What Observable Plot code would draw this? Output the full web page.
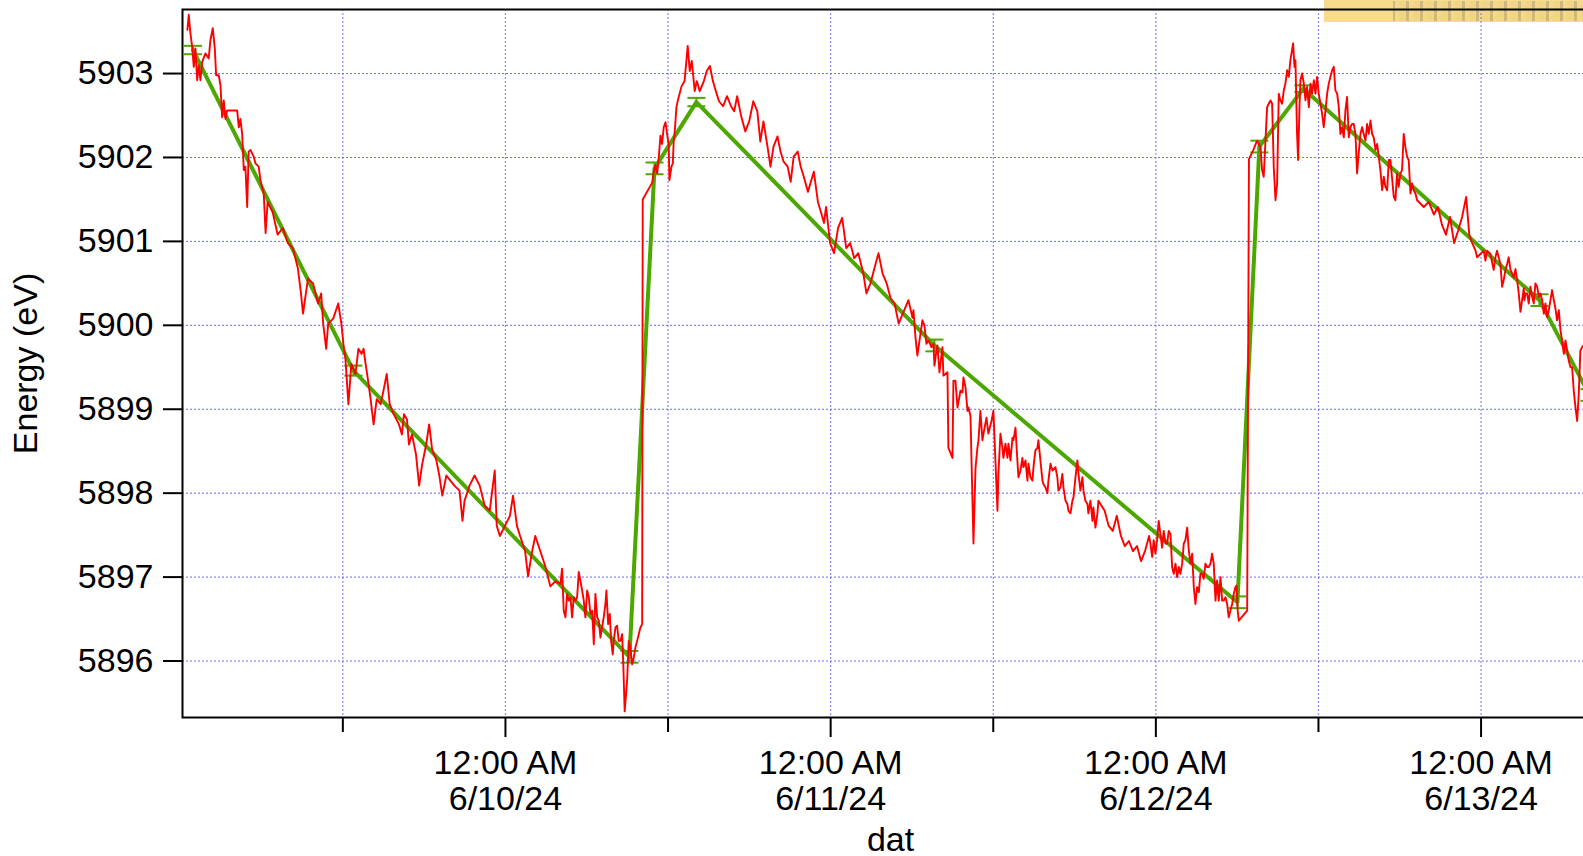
<!DOCTYPE html>
<html>
<head>
<meta charset="utf-8">
<script src="https://cdn.jsdelivr.net/npm/d3@7"></script>
<script src="https://cdn.jsdelivr.net/npm/@observablehq/plot@0.6"></script>
<style>
  html, body { margin: 0; padding: 0; background: #fff; overflow: hidden; }
  #wrap { position: relative; width: 1583px; height: 856px; overflow: hidden; }
  #badge { position: absolute; left: 1324px; top: 0; width: 259px; height: 22px; background: #f8dc8e; }
  #badge-cells { position: absolute; left: 69px; top: 1px; right: 0; height: 20px;
    background: repeating-linear-gradient(90deg, #c8b27e 0 2px, #f2d88f 2px 6px, #eed48a 6px 13px, #c8b27e 13px 14px);
    opacity: 0.85; }
  #chart { position: absolute; left: 0; top: 0; width: 1600px; }
  #chart svg { max-width: none !important; width: 1600px; height: 856px; }
</style>
</head>
<body>
<div id="wrap"><div id="badge"><div id="badge-cells"></div></div><div id="chart"></div></div>
<script>
// Hours are counted from 6/9/24 12:00 AM (UTC clock, no DST shifts).
const start = Date.UTC(2024, 5, 9);

// Measured energy (eV) vs elapsed hours
const hours = [
  0.53,0.63,0.75,0.88,1.00,1.12,1.25,1.37,1.49,1.62,1.86,2.10,2.23,2.40,2.55,2.65,2.84,2.97,3.09,3.21,
  3.34,3.46,3.95,4.20,4.32,4.44,4.57,4.69,4.81,4.94,5.05,5.18,5.42,5.55,5.79,5.92,6.16,6.30,6.45,6.82,
  7.19,7.57,7.94,8.31,8.68,8.91,9.06,9.43,9.80,10.17,10.40,10.55,10.77,10.92,11.29,11.66,11.89,12.04,12.19,12.41,
  12.63,12.93,13.15,13.38,13.53,13.68,13.90,14.05,14.27,14.50,14.79,15.02,15.24,15.46,15.76,16.14,16.36,16.51,16.73,16.88,
  17.10,17.40,17.63,17.85,18.15,18.37,18.59,18.89,19.12,19.34,19.64,19.94,20.23,20.61,20.83,20.98,21.35,21.72,22.10,22.47,
  22.84,23.21,23.36,23.59,23.96,24.33,24.56,24.85,25.08,25.45,25.67,25.97,26.20,26.57,26.94,27.31,27.69,
  28.06,28.18,28.30,28.43,28.55,28.67,28.80,28.92,29.04,29.17,29.29,29.41,29.53,29.66,29.78,29.90,30.03,30.15,30.27,30.40,
  30.52,30.64,30.77,30.89,31.01,31.13,31.25,31.38,31.45,31.58,31.70,31.80,31.92,31.99,32.12,32.24,32.36,32.49,32.61,32.69,
  32.80,32.98,33.10,33.22,33.35,33.47,33.59,33.72,33.96,34.09,34.13,
  34.83,34.95,35.07,35.20,35.32,35.44,35.56,35.68,35.81,35.93,36.05,36.10,36.25,36.35,36.42,36.49,36.55,36.62,36.72,
  37.00,37.22,37.45,37.60,37.75,37.97,38.12,38.34,38.64,38.86,39.09,39.31,39.53,39.76,40.06,40.35,40.65,40.88,41.10,41.40,
  41.70,41.99,42.29,42.59,42.81,43.04,43.34,43.56,43.78,44.08,44.30,44.53,44.83,45.05,45.27,45.57,45.79,46.02,46.32,46.54,
  46.76,47.06,47.28,47.51,47.66,47.96,48.25,48.55,48.85,49.15,49.44,49.74,50.04,50.41,50.64,50.94,51.23,51.53,51.83,52.13,
  52.43,52.72,53.02,
  53.74,54.04,54.11,54.26,54.40,54.63,54.77,54.92,55.07,55.22,55.44,55.59,55.66,55.81,55.88,56.03,56.25,56.32,56.62,56.69,
  56.99,57.06,57.21,57.36,57.58,57.73,57.80,57.95,58.10,58.17,58.32,58.54,58.69,58.83,58.91,59.05,59.20,59.28,59.50,59.64,
  59.87,60.01,60.16,60.31,60.38,60.53,60.68,60.75,60.90,61.05,61.12,61.27,61.42,61.49,61.64,61.78,61.86,62.01,62.15,62.23,
  62.38,62.52,62.60,62.74,62.89,62.97,63.11,63.26,63.33,63.48,63.63,63.70,63.85,64.00,64.07,64.22,64.37,64.59,64.73,64.81,
  64.96,65.10,65.18,65.33,65.47,65.55,65.70,65.84,65.92,66.07,66.21,66.29,66.43,66.58,66.66,66.80,66.95,67.02,67.17,67.32,
  67.39,67.54,67.69,67.76,
  68.22,68.52,68.82,69.12,69.42,69.71,70.01,70.31,70.61,70.91,71.20,71.50,
  71.60,71.73,71.84,71.97,72.09,72.21,72.34,72.46,72.58,72.71,72.83,72.95,73.08,73.20,73.32,73.45,73.57,73.69,73.81,73.94,
  74.06,74.18,74.31,74.43,74.55,74.68,74.80,74.92,75.04,75.17,75.29,75.41,75.53,75.66,75.78,75.90,76.03,76.15,76.27,76.40,
  76.52,76.64,76.77,76.89,77.01,77.14,77.26,77.38,77.50,77.63,77.75,77.87,77.95,78.04,78.12,78.74,78.87,79.20,
  79.47,79.72,79.84,79.96,80.09,80.21,80.33,80.46,80.58,80.70,80.83,80.95,81.07,81.19,81.32,81.44,81.56,81.69,81.81,81.93,
  82.13,82.23,82.30,82.42,82.50,82.60,82.67,82.79,82.92,83.04,83.16,83.29,83.41,83.53,83.66,83.78,83.90,84.02,84.15,84.27,
  84.39,84.52,84.64,84.76,84.88,85.01,85.13,85.25,85.38,85.50,85.62,85.75,85.87,85.99,86.11,86.24,86.36,86.48,86.60,86.73,
  86.85,86.97,87.10,87.22,87.34,87.47,87.59,87.71,87.84,87.96,88.08,88.21,88.33,88.45,88.57,88.70,88.82,88.94,89.07,89.19,
  89.31,89.56,89.68,89.80,89.92,90.05,90.17,90.29,90.42,90.54,90.66,90.79,90.91,91.03,91.16,91.28,91.77,92.14,
  92.52,92.82,93.11,93.41,93.71,94.01,94.31,94.60,94.90,95.13,95.35,
  95.59,95.71,95.95,96.20,96.32,96.44,96.69,96.93,97.06,97.18,97.30,97.43,97.55,97.67,97.80,97.92,98.04,98.17,98.29,98.41,
  98.54,98.66,98.78,98.91,99.03,99.15,99.20,99.28,99.40,99.52,99.64,99.77,99.89,100.01,100.14,100.26,100.38,100.51,100.63,100.75,
  100.87,101.00,101.12,101.24,101.37,101.49,101.61,101.74,101.86,101.98,102.11,102.23,102.35,102.47,102.60,102.72,102.84,102.97,103.09,103.21,
  103.33,103.46,103.56
];
const energy = [
  5903.52,5903.70,5903.48,5903.32,5903.08,5903.30,5902.92,5903.10,5902.92,5903.14,5903.24,5903.18,5903.40,5903.54,5903.30,5902.98,5902.98,5902.86,5902.48,5902.68,
  5902.46,5902.56,5902.56,5902.56,5902.36,5902.46,5902.28,5901.85,5901.89,5901.41,5902.07,5902.09,5902.01,5901.93,5901.89,5901.73,5901.57,5901.10,5901.47,5901.35,
  5901.08,5901.16,5900.98,5900.92,5900.68,5900.38,5900.14,5900.56,5900.50,5900.26,5900.38,5900.02,5899.72,5900.02,5900.08,5900.26,5900.02,5899.78,5899.60,5899.06,
  5899.54,5899.42,5899.72,5899.66,5899.72,5899.54,5899.30,5899.12,5898.82,5899.12,5899.06,5899.24,5899.42,5899.06,5898.94,5898.82,5898.70,5898.94,5898.88,5898.58,
  5898.70,5898.46,5898.09,5898.34,5898.58,5898.82,5898.52,5898.40,5898.21,5897.97,5898.21,5898.15,5898.09,5898.03,5897.67,5897.91,5898.09,5898.21,5898.09,5897.85,
  5897.79,5898.27,5897.61,5897.49,5897.61,5897.73,5897.97,5897.61,5897.49,5897.31,5897.01,5897.31,5897.49,5897.31,5897.13,5896.89,5896.95,
  5896.92,5897.10,5896.60,5896.52,5896.80,5896.72,5896.76,5896.52,5896.76,5896.72,5896.76,5897.06,5896.96,5896.84,5896.72,5896.52,5896.84,5896.76,5896.56,5896.60,
  5896.20,5896.80,5896.52,5896.48,5896.28,5896.40,5896.52,5896.68,5896.84,5896.44,5896.56,5896.24,5896.08,5896.24,5896.40,5896.42,5896.24,5896.24,5896.32,5896.00,
  5895.40,5895.77,5896.24,5896.16,5895.96,5896.04,5896.16,5896.24,5896.40,5896.44,5901.50,
  5901.70,5901.83,5901.91,5901.81,5902.01,5902.26,5902.16,5902.36,5902.42,5902.28,5902.14,5901.73,5901.89,5901.93,5902.20,5902.30,5902.44,5902.60,5902.68,
  5902.85,5902.91,5903.33,5903.03,5903.15,5902.79,5902.91,5902.79,5902.91,5903.03,5903.09,5902.91,5902.79,5902.67,5902.61,5902.73,5902.61,5902.55,5902.73,5902.49,
  5902.31,5902.43,5902.67,5902.55,5902.19,5902.43,5902.13,5901.89,5902.13,5902.25,5902.07,5901.95,5901.89,5901.71,5902.01,5902.07,5901.89,5901.77,5901.59,5901.71,
  5901.83,5901.47,5901.35,5901.22,5901.41,5900.98,5900.86,5901.16,5901.28,5900.92,5900.98,5900.80,5900.86,5900.62,5900.38,5900.50,5900.68,5900.86,5900.62,5900.50,
  5900.32,5900.26,5900.02,
  5900.30,5900.09,5900.18,5899.86,5899.64,5899.90,5900.06,5900.00,5899.78,5899.82,5899.74,5899.78,5899.52,5899.70,5899.76,5899.44,5899.74,5899.40,5899.44,5898.54,
  5898.42,5899.34,5899.34,5899.02,5899.22,5899.20,5899.38,5899.26,5898.98,5899.02,5898.92,5897.40,5898.30,5898.54,5898.63,5898.98,5898.63,5898.71,5898.90,5898.71,
  5898.86,5898.98,5898.39,5897.79,5898.23,5898.71,5898.54,5898.42,5898.59,5898.42,5898.59,5898.39,5898.66,5898.63,5898.78,5898.39,5898.19,5898.27,5898.42,5898.31,
  5898.39,5898.15,5898.35,5898.19,5898.15,5898.31,5898.51,5898.54,5898.63,5898.39,5898.15,5898.11,5898.07,5898.00,5898.15,5898.35,5898.27,5898.31,5898.19,5898.03,
  5898.07,5898.23,5898.07,5897.91,5897.87,5897.79,5897.76,5897.91,5897.95,5898.19,5898.39,5898.23,5898.03,5898.19,5898.03,5897.91,5897.87,5897.76,5897.91,5897.67,
  5897.83,5897.59,5897.76,5897.91,
  5897.79,5897.61,5897.55,5897.73,5897.49,5897.37,5897.43,5897.31,5897.37,5897.19,5897.31,5897.49,
  5897.40,5897.24,5897.44,5897.28,5897.44,5897.67,5897.51,5897.35,5897.55,5897.40,5897.40,5897.55,5897.51,5897.12,5897.04,5897.16,5897.00,5897.12,5897.04,5897.16,
  5897.40,5897.44,5897.59,5897.32,5897.16,5897.28,5896.88,5896.68,5896.88,5896.82,5897.04,5897.04,5896.98,5897.16,5897.12,5897.12,5897.16,5897.28,5897.16,5896.72,
  5896.96,5896.72,5897.00,5896.72,5896.72,5896.76,5896.68,5896.52,5896.60,5896.68,5896.80,5896.88,5896.90,5896.60,5896.48,5896.60,5901.98,5902.09,
  5902.20,5902.12,5901.85,5901.77,5902.20,5902.60,5902.64,5902.68,5902.64,5901.89,5901.49,5901.69,5902.76,5902.68,5902.64,5902.80,5902.88,5903.04,5902.96,5903.16,
  5903.36,5903.08,5903.16,5902.28,5901.97,5902.60,5902.92,5903.00,5902.88,5902.68,5902.84,5902.60,5902.88,5902.76,5902.92,5902.76,5902.96,5902.76,5902.64,5902.52,
  5902.36,5902.56,5902.76,5902.88,5902.96,5903.04,5903.08,5902.80,5902.76,5902.60,5902.28,5902.36,5902.24,5902.56,5902.72,5902.24,5902.36,5902.40,5902.40,5902.28,
  5901.81,5902.05,5902.28,5902.36,5902.28,5902.20,5902.40,5902.28,5902.44,5902.28,5902.24,5902.09,5902.16,5902.01,5901.85,5901.61,5901.77,5901.65,5901.61,5901.97,
  5901.97,5901.53,5901.49,5901.81,5901.65,5901.81,5901.85,5902.28,5902.12,5902.01,5901.97,5901.57,5901.69,5901.61,5901.57,5901.49,5901.41,5901.47,
  5901.32,5901.41,5901.20,5901.08,5901.29,5900.98,5901.13,5901.29,5901.53,5901.08,5900.98,
  5900.89,5900.81,5900.85,5900.89,5900.77,5900.89,5900.85,5900.66,5900.81,5900.89,5900.81,5900.73,5900.46,5900.54,5900.66,5900.73,5900.81,5900.66,5900.62,5900.57,
  5900.67,5900.54,5900.38,5900.16,5900.30,5900.44,5900.30,5900.38,5900.38,5900.26,5900.46,5900.34,5900.26,5900.50,5900.46,5900.34,5900.38,5900.30,5900.14,5900.26,
  5900.10,5900.18,5900.30,5900.42,5900.30,5900.20,5900.06,5900.18,5899.94,5899.82,5899.66,5899.82,5899.70,5899.58,5899.50,5899.50,5899.22,5899.02,5898.86,5899.18,
  5899.70,5899.74,5899.76
];

// Piecewise-linear drift fit: knots with their uncertainty (eV)
const fitHours  = [0.94, 12.78, 33.15, 35.00, 38.09, 55.66, 78.02, 79.64, 82.89, 100.31, 104.00];
const fitEnergy = [5903.28, 5899.46, 5896.05, 5901.87, 5902.66, 5899.76, 5896.70, 5902.13, 5902.82, 5900.30, 5899.17];
const fitError  = [0.05, 0.06, 0.07, 0.07, 0.05, 0.07, 0.07, 0.07, 0.04, 0.07, 0.07];

// Axis ticks
const energyTicks = [5896, 5897, 5898, 5899, 5900, 5901, 5902, 5903];
const dayTickHours = [24, 48, 72, 96];          // 12:00 AM, labelled
const noonTickHours = [12, 36, 60, 84];         // 12:00 PM, unlabelled
const domainHours = [1 / 6, 104 + 2 / 3];       // 6/9 00:10 to 6/13 08:40

const toDate = h => new Date(start + h * 3600e3);
const measured = hours.map((h, i) => ({t: toDate(h), e: energy[i]}));
const fit = fitHours.map((h, i) => ({t: toDate(h), e: fitEnergy[i], err: fitError[i]}));
const dayTicks = dayTickHours.map(toDate);
const noonTicks = noonTickHours.map(toDate);
const gridTicks = [...dayTicks, ...noonTicks];

const GREEN = "#4ca800";
const GRID = "#6a6aff";
const FONT = "'Liberation Sans', Arial, Helvetica, sans-serif";

// horizontal cap drawn as a dot symbol, r = half width in px
const capSymbol = {
  draw(context, size) {
    const w = Math.sqrt(size / Math.PI);
    context.moveTo(-w, 0);
    context.lineTo(w, 0);
  }
};

const fmt = d3.utcFormat("%-I:%M %p\n%-m/%-d/%y");

const chart = Plot.plot({
  width: 1600,
  height: 856,
  marginLeft: 182,
  marginRight: 2,
  marginTop: 9,
  marginBottom: 139,
  style: {fontFamily: FONT, fontSize: "34px", color: "black", background: "transparent", maxWidth: "none"},
  x: {type: "utc", domain: domainHours.map(toDate)},
  y: {domain: [5895.327, 5903.763]},
  marks: [
    Plot.gridY(energyTicks, {stroke: GRID, strokeOpacity: 1, strokeWidth: 1, strokeDasharray: "2,2"}),
    Plot.gridX(gridTicks, {stroke: GRID, strokeOpacity: 0.8, strokeWidth: 1.2, strokeDasharray: "2,2"}),
    Plot.line(fit, {x: "t", y: "e", stroke: GREEN, strokeWidth: 4}),
    Plot.ruleX(fit, {x: "t", y1: d => d.e - d.err, y2: d => d.e + d.err, stroke: GREEN, strokeWidth: 2}),
    Plot.dot(fit, {x: "t", y: d => d.e - d.err, symbol: capSymbol, r: 9, stroke: GREEN, strokeWidth: 2, fill: "none"}),
    Plot.dot(fit, {x: "t", y: d => d.e + d.err, symbol: capSymbol, r: 9, stroke: GREEN, strokeWidth: 2, fill: "none"}),
    Plot.line(measured, {x: "t", y: "e", stroke: "#ff0000", strokeWidth: 1.9}),
    Plot.frame({stroke: "black", strokeWidth: 2}),
    Plot.axisY({ticks: energyTicks, tickSize: 19, tickPadding: 10, strokeWidth: 2, tickFormat: d => String(d), label: null}),
    Plot.axisX({ticks: dayTicks, tickSize: 20, tickPadding: 10, strokeWidth: 2, tickFormat: fmt, lineHeight: 1.08, label: null}),
    Plot.axisX({ticks: noonTicks, tickSize: 15, strokeWidth: 2, tickFormat: () => "", label: null}),
    Plot.text(["Energy (eV)"], {frameAnchor: "left", textAnchor: "middle", lineAnchor: "middle", rotate: -90, dx: -156, fontSize: 34}),
    Plot.text(["dat"], {frameAnchor: "bottom", textAnchor: "middle", lineAnchor: "middle", dy: 123, fontSize: 34})
  ]
});

document.getElementById("chart").appendChild(chart);
</script>
</body>
</html>
